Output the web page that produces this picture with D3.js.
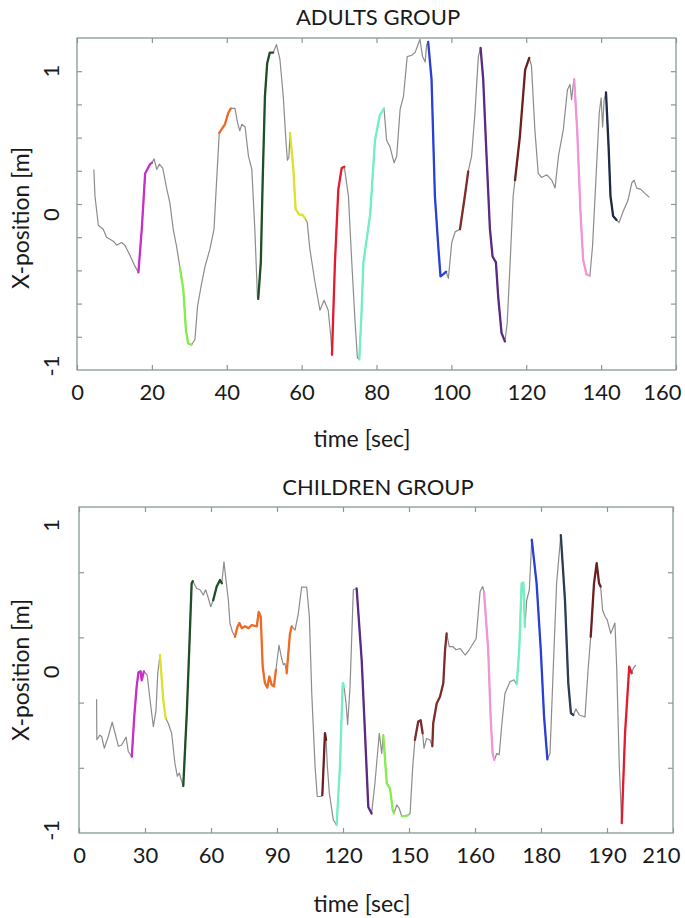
<!DOCTYPE html>
<html>
<head>
<meta charset="utf-8">
<script src="https://cdn.jsdelivr.net/npm/d3@7"></script>
<style>
  body { margin: 0; background: #fff; }
  svg { display: block; }
  text { font-family: Lato, "Open Sans", sans-serif; fill: #1a1a1a; }
</style>
</head>
<body>
<div id="chart"></div>
<script>
// ---- adults group ----
const adultsTime = [4.5,4.8,5.7,7.0,7.9,9.7,10.6,11.9,12.8,14.2,15.5,16.4,17.3,18.2,19.5,20.0,20.6,21.3,22.0,22.9,24.0,24.8,25.7,26.6,27.5,28.4,29.1,29.7,30.6,31.5,32.2,33.3,34.2,35.5,36.6,37.3,38.0,39.5,40.4,41.1,42.2,42.9,43.5,44.0,44.9,45.8,46.7,47.5,48.2,48.4,49.1,49.6,50.2,50.8,51.5,52.4,53.3,54.2,55.1,55.8,56.2,56.6,56.9,57.8,58.4,59.4,60.2,60.9,61.5,62.2,63.6,64.9,66.0,67.1,67.8,68.1,68.9,69.8,70.7,71.4,72.5,73.4,74.3,74.9,75.4,76.0,76.5,78.3,79.6,80.9,82.0,82.7,83.6,84.7,85.4,86.3,87.2,88.2,89.4,90.3,91.6,92.3,93.0,93.4,93.8,94.7,95.6,96.5,97.1,97.8,98.6,99.2,100.1,101.0,102.3,103.6,104.5,105.4,106.3,107.2,107.8,108.5,109.4,110.3,111.0,111.9,112.5,113.4,114.3,114.9,115.7,116.5,117.0,118.3,119.7,120.8,121.4,122.3,123.2,124.1,125.5,126.8,127.7,128.6,129.9,131.0,131.7,132.1,132.6,132.8,133.6,134.5,135.2,136.1,137.0,137.7,138.6,139.5,140.0,140.4,140.8,141.3,142.0,142.5,143.2,144.1,144.8,145.9,147.2,148.2,148.8,149.5,150.6,151.7,152.9];
const adultsPos = [0.26,0.06,-0.16,-0.19,-0.25,-0.28,-0.31,-0.29,-0.31,-0.39,-0.47,-0.515,-0.19,0.23,0.30,0.31,0.34,0.26,0.30,0.27,0.11,0.01,-0.19,-0.32,-0.48,-0.645,-0.95,-1.05,-1.06,-1.02,-0.77,-0.595,-0.47,-0.34,-0.19,0.18,0.535,0.60,0.685,0.72,0.72,0.61,0.55,0.60,0.58,0.36,0.26,-0.19,-0.70,-0.715,-0.44,0.18,0.81,1.06,1.14,1.14,1.20,1.09,0.81,0.48,0.33,0.35,0.535,0.26,-0.04,-0.08,-0.08,-0.105,-0.14,-0.34,-0.595,-0.80,-0.725,-0.80,-1.0,-1.135,-0.44,0.11,0.27,0.28,0.06,-0.44,-0.90,-1.16,-1.17,-0.82,-0.44,-0.08,0.48,0.67,0.72,0.48,0.43,0.31,0.36,0.71,0.81,1.11,1.12,1.14,1.24,1.11,1.07,1.20,1.22,0.94,0.06,-0.32,-0.545,-0.53,-0.51,-0.56,-0.29,-0.21,-0.19,0.06,0.245,0.36,0.685,1.11,1.175,0.94,0.36,-0.19,-0.395,-0.44,-0.695,-0.97,-1.035,-0.90,-0.44,0.06,0.18,0.51,1.01,1.10,1.04,0.56,0.23,0.20,0.22,0.18,0.12,0.36,0.56,0.86,0.90,0.785,0.91,0.94,0.56,-0.07,-0.42,-0.53,-0.54,-0.32,0.18,0.685,0.80,0.58,0.785,0.84,0.43,0.06,-0.09,-0.12,-0.14,-0.055,0.03,0.16,0.18,0.12,0.11,0.08,0.05];
const adultsSegStart = [16.4,27.5,38.0,48.4,56.9,68.1,75.4,93.8,102.3,107.8,117.0,132.8,141.3];
const adultsSegEnd   = [20.0,30.6,41.1,52.4,60.9,71.4,82.0,98.6,104.5,114.3,120.8,137.0,144.1];
const adultsSegColor = ["#c92fc4","#86ee4c","#ef6a22","#1f4f26","#dfe22a","#e51a2e","#72f0c0","#2a3fd8","#7e2c2c","#5b2a84","#6e2020","#f294d8","#1d2b47"];
const adultsXTicks = [0,20,40,60,80,100,120,140,160];
const adultsXLabels = ["0","20","40","60","80","100","120","140","160"];
const adultsYTicks = [-1,-0.75,-0.5,-0.25,0,0.25,0.5,0.75,1];
const adultsYLabelAt = [1,-0.08,-1.22];

// ---- children group ----
const childrenTime = [8.0,8.1,9.5,10.3,11.5,13.3,15.1,16.4,17.9,19.4,21.4,22.4,24.0,25.1,26.2,27.0,28.0,28.5,29.5,31.0,32.3,33.8,35.0,35.8,36.8,38.3,39.4,40.6,42.1,43.6,44.7,45.6,46.7,47.4,49.0,50.1,51.2,51.7,53.5,55.0,56.5,57.6,58.8,59.9,61.0,62.6,64.1,64.9,65.9,66.8,67.9,68.6,69.7,70.9,72.0,72.9,74.0,75.5,77.0,78.5,80.8,81.7,82.6,83.5,84.5,85.6,86.5,87.6,88.6,89.5,90.9,92.1,92.9,93.6,94.4,95.9,96.7,98.2,99.7,101.2,103.5,104.7,105.8,107.3,108.3,109.9,110.6,111.8,112.3,112.9,113.8,115.6,117.1,118.6,119.9,120.5,121.4,122.1,123.2,124.7,126.2,128.5,130.0,131.5,133.0,134.5,136.5,137.6,138.3,139.9,141.4,142.6,143.2,144.4,145.5,146.7,148.2,149.4,150.5,151.7,152.7,154.2,155.3,156.2,156.8,158.0,159.5,160.6,161.0,162.6,164.1,165.6,166.4,167.1,168.3,169.9,171.4,173.2,175.5,177.4,179.2,180.5,182.3,183.5,184.1,186.0,187.1,188.0,188.8,189.9,191.0,192.1,193.6,195.9,197.7,199.0,200.1,201.2,202.0,202.7,203.5,204.7,205.8,208.0,209.9,211.4,212.9,214.1,215.6,217.1,219.0,220.9,222.4,223.6,224.7,225.9,227.4,230.0,231.5,232.6,234.1,235.3,236.4,237.1,238.0,239.1,240.1,241.7,243.6,244.4,245.6,246.7,248.2,250.1,251.2,252.0,253.1];
const childrenPos = [-0.225,-0.535,-0.50,-0.51,-0.60,-0.51,-0.40,-0.485,-0.585,-0.575,-0.515,-0.625,-0.665,-0.36,-0.13,-0.02,-0.01,-0.08,-0.01,-0.04,-0.23,-0.435,-0.31,-0.025,0.115,-0.23,-0.37,-0.41,-0.485,-0.715,-0.815,-0.79,-0.855,-0.89,-0.33,0.155,0.665,0.68,0.625,0.615,0.575,0.615,0.55,0.485,0.535,0.64,0.69,0.665,0.83,0.69,0.535,0.36,0.295,0.255,0.33,0.36,0.32,0.335,0.32,0.345,0.335,0.445,0.41,0.025,-0.10,-0.135,-0.05,-0.115,-0.125,0.0,0.19,0.09,0.04,0.05,-0.025,0.28,0.335,0.305,0.435,0.635,0.635,0.41,-0.18,-0.74,-0.97,-0.97,-0.96,-0.485,-0.535,-0.74,-0.945,-1.15,-1.19,-0.74,-0.10,-0.13,-0.255,-0.42,-0.13,0.615,0.625,0.075,-0.485,-1.05,-1.10,-0.87,-0.485,-0.64,-0.50,-0.87,-0.91,-1.075,-1.10,-1.035,-1.06,-1.12,-1.12,-1.115,-1.10,-0.74,-0.535,-0.395,-0.385,-0.485,-0.60,-0.525,-0.535,-0.585,-0.41,-0.255,-0.205,-0.10,0.155,0.28,0.18,0.18,0.155,0.165,0.115,0.155,0.205,0.24,0.60,0.64,0.60,0.155,-0.36,-0.64,-0.69,-0.64,-0.65,-0.435,-0.18,-0.09,-0.075,-0.11,0.155,0.665,0.67,0.33,0.535,0.615,1.0,0.665,0.155,-0.36,-0.685,-0.64,0.025,0.665,1.035,0.535,-0.10,-0.33,-0.345,-0.30,-0.345,-0.36,0.025,0.255,0.665,0.82,0.665,0.64,0.46,0.41,0.385,0.28,0.36,0.025,-0.74,-1.175,-0.485,0.025,-0.025,0.015,0.04];
const childrenSegStart = [24.0,36.8,47.4,61.0,70.9,94.4,110.6,117.1,126.2,138.3,146.7,152.7,160.6,184.1,199.0,205.8,219.0,232.6,246.7];
const childrenSegEnd   = [29.5,39.4,51.7,64.9,89.5,96.7,112.3,120.5,133.0,143.2,149.4,156.2,167.1,188.8,202.7,212.9,224.7,237.1,251.2];
const childrenSegColor = ["#c92fc4","#dfe22a","#1f4f26","#1f4f26","#ef6a22","#ef6a22","#6e2020","#72f0c0","#5b2a84","#86ee4c","#86ee4c","#7e2c2c","#7e2c2c","#f294d8","#72f0c0","#2a3fd8","#2d3b57","#6e2020","#e51a2e"];
const childrenXTicks = [0,30,60,90,120,150,180,210,240,270];
const childrenXLabels = ["0","30","60","90","120","150","160","180","190","210"];
const childrenYTicks = [-0.75,-0.25,0.25,0.75];
const childrenYLabelAt = [1.11,-0.015,-1.23];

const yLabels = ["1","0","-1"];

const W = 685, H = 918;
const frameColor = "#8a9898";
const curveGrey = "#8c8c8c";

const svg = d3.select("#chart").append("svg")
  .attr("width", W).attr("height", H)
  .attr("viewBox", `0 0 ${W} ${H}`);

function drawPanel(p) {
  const x = d3.scaleLinear().domain(p.xDomain).range([p.left, p.right]);
  const y = d3.scaleLinear().domain([-1.25, 1.25]).range([p.bottom, p.top]);
  const g = svg.append("g");

  // title
  g.append("text")
    .attr("x", p.titleX).attr("y", p.titleY)
    .attr("text-anchor", "middle")
    .style("font-size", "22px")
    .text(p.title);

  // tick marks, all pointing inward
  const noLabel = () => "";
  const tidy = sel => {
    sel.select(".domain").remove();
    sel.selectAll(".tick line").attr("stroke", frameColor).attr("stroke-width", 1.2);
  };
  const n = p.xTicks.length;
  g.append("g").attr("transform", `translate(0,${p.bottom})`)
    .call(d3.axisBottom(x).tickValues(p.xTicks).tickSize(-5).tickPadding(14)
      .tickFormat((d, i) => p.xLabels[i]))
    .call(tidy)
    .call(s => s.selectAll(".tick text").style("font-size", "22px")
      .style("font-family", "Lato, 'Open Sans', sans-serif").attr("fill", "#1a1a1a"))
    // last label is pulled in so it fits inside the page
    .call(s => s.selectAll(".tick text").filter((d, i) => i === n - 1)
      .attr("text-anchor", "end").attr("x", p.lastLabelDx));
  g.append("g").attr("transform", `translate(0,${p.top})`)
    .call(d3.axisTop(x).tickValues(p.xTicks).tickSize(-5).tickFormat(noLabel))
    .call(tidy);
  g.append("g").attr("transform", `translate(${p.left},0)`)
    .call(d3.axisLeft(y).tickValues(p.yTicks).tickSize(-5).tickFormat(noLabel))
    .call(tidy);
  g.append("g").attr("transform", `translate(${p.right},0)`)
    .call(d3.axisRight(y).tickValues(p.yTicks).tickSize(-5).tickFormat(noLabel))
    .call(tidy);

  // frame
  g.append("rect")
    .attr("x", p.left).attr("y", p.top)
    .attr("width", p.right - p.left).attr("height", p.bottom - p.top)
    .attr("fill", "none").attr("stroke", frameColor).attr("stroke-width", 1.3);

  // y labels (rotated)
  p.yLabelAt.forEach((v, i) => {
    g.append("text")
      .attr("transform", `translate(59,${y(v)}) rotate(-90)`)
      .attr("text-anchor", "middle")
      .style("font-size", "22px")
      .text(yLabels[i]);
  });

  // axis titles
  g.append("text")
    .attr("transform", `translate(29,${p.yTitleY}) rotate(-90)`)
    .attr("text-anchor", "middle")
    .style("font-size", "23px")
    .text("X-position [m]");
  g.append("text")
    .attr("x", p.xTitleX).attr("y", p.xTitleY)
    .attr("text-anchor", "middle")
    .style("font-size", "23px")
    .text("time [sec]");

  const pts = p.time.map((t, i) => ({ t: t, v: p.pos[i] }));
  const line = d3.line().x(d => x(d.t)).y(d => y(d.v));

  g.append("path")
    .datum(pts)
    .attr("d", line)
    .attr("fill", "none")
    .attr("stroke", curveGrey)
    .attr("stroke-width", 1.2)
    .attr("stroke-linejoin", "round");

  p.segStart.forEach((s, i) => {
    const seg = pts.filter(d => d.t >= s && d.t <= p.segEnd[i]);
    g.append("path")
      .datum(seg)
      .attr("d", line)
      .attr("fill", "none")
      .attr("stroke", p.segColor[i])
      .attr("stroke-width", 2.3)
      .attr("stroke-linejoin", "round")
      .attr("stroke-linecap", "round");
  });
}

drawPanel({
  title: "ADULTS GROUP", titleX: 378, titleY: 25,
  left: 77, right: 676, top: 38, bottom: 370,
  xDomain: [0, 160], xTicks: adultsXTicks, xLabels: adultsXLabels, lastLabelDx: 5,
  yTicks: adultsYTicks, yLabelAt: adultsYLabelAt,
  yTitleY: 218, xTitleX: 362, xTitleY: 447,
  time: adultsTime, pos: adultsPos,
  segStart: adultsSegStart, segEnd: adultsSegEnd, segColor: adultsSegColor
});

drawPanel({
  title: "CHILDREN GROUP", titleX: 378, titleY: 495,
  left: 79, right: 673, top: 507, bottom: 833,
  xDomain: [0, 270], xTicks: childrenXTicks, xLabels: childrenXLabels, lastLabelDx: 7,
  yTicks: childrenYTicks, yLabelAt: childrenYLabelAt,
  yTitleY: 670, xTitleX: 362, xTitleY: 912,
  time: childrenTime, pos: childrenPos,
  segStart: childrenSegStart, segEnd: childrenSegEnd, segColor: childrenSegColor
});
</script>
</body>
</html>
